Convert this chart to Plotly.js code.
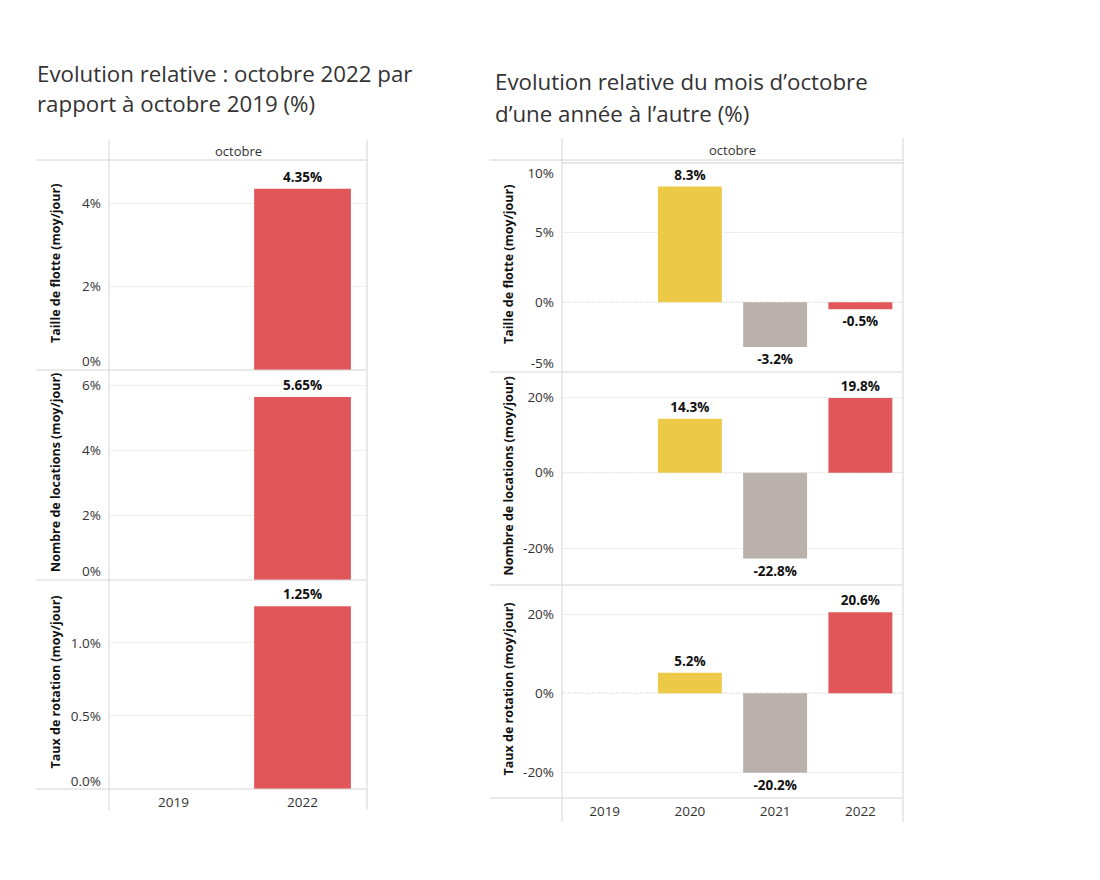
<!DOCTYPE html>
<html>
<head>
<meta charset="utf-8">
<script src="https://cdn.plot.ly/plotly-3.0.1.min.js"></script>
<style>html,body{margin:0;padding:0;background:#fff;}#chart{width:1100px;height:880px;}</style>
</head>
<body>
<div id="chart"></div>
<script>
// ---- Data ----
const leftCategories = ['2019', '2022'];
const leftFlotte = [null, 4.35];
const leftLocations = [null, 5.65];
const leftRotation = [null, 1.25];

const rightCategories = ['2019', '2020', '2021', '2022'];
const rightFlotte = [null, 8.3, -3.2, -0.5];
const rightLocations = [null, 14.3, -22.8, 19.8];
const rightRotation = [null, 5.2, -20.2, 20.6];

// tick values of each pane (y axis)
const leftTicks = [[0, 2, 4], [0, 2, 4, 6], [0, 0.5, 1.0]];
const rightTicks = [[-5, 0, 5, 10], [-20, 0, 20], [-20, 0, 20]];

const leftColor = '#E15759';
const rightColors = ['#BAB0AC', '#EDC948', '#BAB0AC', '#E15759'];

const rowTitles = ['Taille de flotte (moy/jour)', 'Nombre de locations (moy/jour)', 'Taux de rotation (moy/jour)'];
const headerLabel = 'octobre';
const leftTitleLines = ['Evolution relative : octobre 2022 par', 'rapport à octobre 2019 (%)'];
const rightTitleLines = ['Evolution relative du mois d\u2019octobre', 'd\u2019une année à l\u2019autre (%)'];

// ---- Geometry / style ----
const W = 1100, H = 880;
const px = v => v / W;
const py = v => 1 - v / H;
const FONT = '"Open Sans", "Noto Sans", sans-serif';

const leftX = [109, 367];
const rightX = [562, 903];
const leftRows = [[160, 370], [370, 580], [580, 789]];
const rightRows = [[160, 372], [372, 585], [585, 798]];
const leftRanges = [[0, 5.04], [0, 6.48], [0, 1.43]];
const rightRanges = [[-5.0, 10.2], [-29.8, 26.7], [-26.6, 27.5]];
const leftFormats = ['.0f', '.0f', '.1f'];
// Tableau nudges tick labels that sit on a pane edge inward (pixels, + = up)
const leftEdgeNudge = [[9, 0, 0], [9, 0, 0, 0], [8, 0, 0]];
const rightEdgeNudge = [[9, 0, 0, -10], [0, 0, 0], [0, 0, 0]];

const leftSeries = [leftFlotte, leftLocations, leftRotation];
const rightSeries = [rightFlotte, rightLocations, rightRotation];

const TICK_SIZE = 13.5;
const LABEL_SIZE = 13.5;
const ROWTITLE_SIZE = 12.5;

const traces = [];
const layout = {
  width: W, height: H,
  margin: {l: 0, r: 0, t: 0, b: 0},
  paper_bgcolor: '#fff', plot_bgcolor: 'rgba(0,0,0,0)',
  showlegend: false,
  font: {family: FONT, color: '#333'},
  annotations: [], shapes: [],
  bargap: 0.25
};

let labelAxisIdx = 7;
function fmtTick(v, fmt) {
  return (fmt === '.1f' ? v.toFixed(1) : v.toFixed(0)) + '%';
}
function addAxis(idx, xr, yr, cats, range, ticks, nudge, fmt, showX) {
  const xn = idx === 1 ? 'xaxis' : 'xaxis' + idx;
  const yn = idx === 1 ? 'yaxis' : 'yaxis' + idx;
  const xid = idx === 1 ? 'x' : 'x' + idx;
  const yid = idx === 1 ? 'y' : 'y' + idx;
  layout[xn] = {
    domain: [px(xr[0]), px(xr[1])],
    anchor: yid,
    type: 'category', categoryorder: 'array', categoryarray: cats,
    range: [-0.5, cats.length - 0.5],
    showgrid: false, zeroline: false, showline: false,
    showticklabels: showX, ticks: '', ticklabelstandoff: 3,
    tickfont: {size: TICK_SIZE, color: '#333', family: FONT},
    fixedrange: true
  };
  // grid axis (true tick positions)
  layout[yn] = {
    domain: [py(yr[1]), py(yr[0])],
    anchor: xid,
    range: range, tickmode: 'array', tickvals: ticks,
    showgrid: true, gridcolor: '#efefef', gridwidth: 1,
    zeroline: false, showline: false, ticks: '', showticklabels: false,
    fixedrange: true
  };
  // label axis (labels, edge ones nudged inside the pane like Tableau)
  const unitPerPx = (range[1] - range[0]) / (yr[1] - yr[0]);
  const ln = 'yaxis' + labelAxisIdx;
  layout[ln] = {
    overlaying: yid, anchor: xid, side: 'left',
    range: range, tickmode: 'array',
    tickvals: ticks.map((v, i) => v + nudge[i] * unitPerPx),
    ticktext: ticks.map(v => fmtTick(v, fmt)),
    showgrid: false, zeroline: false, showline: false, ticks: '',
    ticklabelstandoff: 7,
    tickfont: {size: TICK_SIZE, color: '#333', family: FONT},
    fixedrange: true
  };
  // empty helper trace so that the label axis is drawn
  traces.push({
    type: 'scatter', mode: 'markers', x: [cats[0]], y: [null],
    xaxis: xid, yaxis: 'y' + labelAxisIdx, hoverinfo: 'skip', showlegend: false
  });
  labelAxisIdx++;
}

// Left panel
for (let r = 0; r < 3; r++) {
  const idx = r + 1;
  addAxis(idx, leftX, leftRows[r], leftCategories, leftRanges[r], leftTicks[r], leftEdgeNudge[r], leftFormats[r], r === 2);
  traces.push({
    type: 'bar',
    x: leftCategories, y: leftSeries[r],
    xaxis: idx === 1 ? 'x' : 'x' + idx, yaxis: idx === 1 ? 'y' : 'y' + idx,
    marker: {color: leftColor},
    width: 0.75,
    texttemplate: '%{y:.2f}%', textposition: 'outside', cliponaxis: false,
    textfont: {size: LABEL_SIZE, color: '#111', family: FONT, weight: 'bold'},
    hoverinfo: 'x+y'
  });
  layout.annotations.push({
    xref: 'paper', yref: 'paper', x: px(55), y: py((leftRows[r][0] + leftRows[r][1]) / 2 - 2),
    text: rowTitles[r], textangle: -90, showarrow: false,
    font: {size: ROWTITLE_SIZE, color: '#111', family: FONT, weight: 'bold'},
    xanchor: 'center', yanchor: 'middle'
  });
}

// Right panel
for (let r = 0; r < 3; r++) {
  const idx = r + 4;
  addAxis(idx, rightX, rightRows[r], rightCategories, rightRanges[r], rightTicks[r], rightEdgeNudge[r], '.0f', r === 2);
  traces.push({
    type: 'bar',
    x: rightCategories, y: rightSeries[r],
    xaxis: 'x' + idx, yaxis: 'y' + idx,
    marker: {color: rightColors},
    width: 0.75,
    texttemplate: '%{y:.1f}%', textposition: 'outside', cliponaxis: false,
    textfont: {size: LABEL_SIZE, color: '#111', family: FONT, weight: 'bold'},
    hoverinfo: 'x+y'
  });
  // dashed zero line
  layout.shapes.push({
    type: 'line', xref: 'x' + idx + ' domain', yref: 'y' + idx,
    x0: 0, x1: 1, y0: 0, y1: 0,
    line: {color: '#bdbdbd', width: 1, dash: 'dot'}, layer: 'below'
  });
  layout.annotations.push({
    xref: 'paper', yref: 'paper', x: px(508), y: py((rightRows[r][0] + rightRows[r][1]) / 2 - 2),
    text: rowTitles[r], textangle: -90, showarrow: false,
    font: {size: ROWTITLE_SIZE, color: '#111', family: FONT, weight: 'bold'},
    xanchor: 'center', yanchor: 'middle'
  });
}

// Headers and titles
layout.annotations.push({
  xref: 'paper', yref: 'paper', x: px((leftX[0] + leftX[1]) / 2), y: py(151),
  text: headerLabel, showarrow: false, font: {size: 13, color: '#333', family: FONT},
  xanchor: 'center', yanchor: 'middle'
});
layout.annotations.push({
  xref: 'paper', yref: 'paper', x: px((rightX[0] + rightX[1]) / 2), y: py(150),
  text: headerLabel, showarrow: false, font: {size: 13, color: '#333', family: FONT},
  xanchor: 'center', yanchor: 'middle'
});
const titleLineY = [[73, 103], [82, 113]];
const titleX = [35, 493];
[leftTitleLines, rightTitleLines].forEach((lines, t) => {
  lines.forEach((txt, i) => {
    layout.annotations.push({
      xref: 'paper', yref: 'paper', x: px(titleX[t]), y: py(titleLineY[t][i]),
      text: txt, showarrow: false, align: 'left',
      font: {size: 22.3, color: '#333', family: FONT},
      xanchor: 'left', yanchor: 'middle'
    });
  });
});

// Frame lines (Tableau-style pane borders)
const lineColor = '#d4d4d4';
function hline(x0, x1, y) {
  layout.shapes.push({type: 'line', xref: 'paper', yref: 'paper', x0: px(x0), x1: px(x1), y0: py(y), y1: py(y), line: {color: lineColor, width: 1}});
}
function vline(x, y0, y1) {
  layout.shapes.push({type: 'line', xref: 'paper', yref: 'paper', x0: px(x), x1: px(x), y0: py(y0), y1: py(y1), line: {color: lineColor, width: 1}});
}
vline(109, 140, 810); vline(367, 140, 810);
hline(36, 367, 160); hline(36, 367, 370); hline(36, 367, 580); hline(36, 367, 789);
vline(562, 138, 822); vline(903, 138, 822);
hline(490, 903, 160); hline(562, 903, 163); hline(490, 903, 372); hline(490, 903, 585); hline(490, 903, 798);

Plotly.newPlot('chart', traces, layout, {staticPlot: true, displayModeBar: false});
</script>
</body>
</html>
